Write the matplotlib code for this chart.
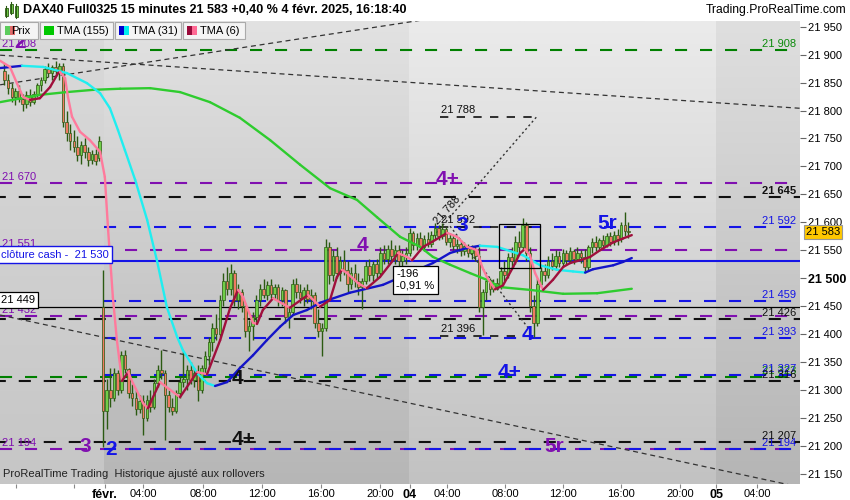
import matplotlib
matplotlib.use("Agg")
import matplotlib.pyplot as plt
import matplotlib.transforms as mtransforms
from matplotlib.patches import Rectangle
from matplotlib.collections import LineCollection
import numpy as np

plt.rcParams['font.family'] = ['Liberation Sans', 'DejaVu Sans']

# ---------------- data ----------------
# bar index: 0 = 3 Feb 01:15, negatives = 31 Jan, 83.. = 4 Feb (15-minute bars)
first_index = -27
opens = [21870,21855,21840,21825,21835,21820,21812,21828,21815,21830,21845,21855,21875,21868,21878,21870,21880,21780,21760,21745,21735,21720,21738,21725,21712,21722,21715,
         21449,21262,21300,21285,21330,21300,21362,21338,21295,21285,21265,21280,21250,21282,21270,21312,21335,21330,21290,21270,21262,21295,21315,21320,21335,21318,21330,21300,21340,21360,21385,21410,21400,21460,21495,21480,21510,21460,21475,21450,21405,21415,21430,21460,21480,21470,21488,21472,21485,21460,21478,21430,21440,21490,21475,21465,21478,21462,21470,21420,21405,21410,21555,21505,21540,21510,21530,21515,21490,21510,21495,21485,21495,21522,21505,21525,21510,21545,21535,21552,21540,21550,21530,
         21540,21545,21580,21560,21572,21555,21570,21562,21578,21590,21575,21588,21565,21572,21558,21562,21548,21558,21545,21552,21540,21448,21475,21495,21480,21492,21485,21512,21505,21538,21530,21565,21555,21595,21545,21450,21420,21490,21512,21505,21530,21522,21540,21528,21545,21532,21548,21535,21545,21538,21520,21555,21565,21555,21568,21560,21575,21565,21578,21570,21595,21585]
highs = [21885,21865,21850,21840,21845,21830,21835,21838,21835,21850,21860,21880,21885,21882,21888,21885,21885,21800,21775,21765,21755,21745,21750,21735,21730,21732,21755,
         21515,21320,21340,21340,21335,21370,21372,21340,21310,21300,21290,21290,21290,21300,21320,21345,21372,21335,21300,21285,21300,21325,21370,21345,21350,21340,21345,21345,21370,21395,21420,21435,21470,21510,21520,21525,21515,21490,21480,21455,21425,21440,21470,21490,21498,21495,21498,21490,21490,21485,21480,21450,21498,21500,21490,21485,21490,21480,21475,21445,21420,21570,21565,21550,21555,21540,21550,21530,21520,21525,21510,21500,21530,21535,21530,21535,21555,21560,21560,21568,21560,21560,21550,
         21555,21590,21585,21580,21582,21578,21582,21585,21598,21595,21598,21592,21580,21578,21570,21568,21565,21562,21560,21558,21555,21480,21500,21500,21498,21500,21520,21530,21545,21555,21575,21585,21608,21600,21555,21470,21500,21520,21525,21540,21545,21550,21548,21552,21550,21555,21552,21555,21550,21552,21560,21572,21575,21572,21578,21580,21582,21585,21588,21600,21618,21600]
lows = [21845,21830,21815,21810,21815,21800,21805,21808,21812,21825,21835,21850,21860,21855,21862,21855,21770,21745,21730,21725,21710,21705,21715,21700,21705,21702,21710,
        21198,21230,21270,21280,21290,21295,21330,21285,21272,21255,21258,21220,21245,21260,21265,21305,21320,21210,21260,21255,21258,21285,21305,21300,21310,21305,21280,21295,21330,21345,21370,21390,21395,21450,21470,21470,21450,21445,21440,21395,21370,21390,21420,21450,21465,21460,21465,21460,21450,21450,21420,21410,21435,21465,21455,21450,21455,21445,21410,21395,21360,21405,21490,21495,21500,21495,21505,21475,21480,21485,21470,21445,21490,21495,21495,21500,21505,21525,21525,21530,21525,21520,21515,
        21525,21540,21550,21550,21548,21548,21555,21555,21570,21568,21570,21560,21555,21550,21545,21540,21542,21538,21535,21530,21440,21398,21460,21470,21475,21478,21480,21495,21500,21520,21525,21545,21550,21530,21440,21395,21415,21485,21495,21500,21515,21515,21520,21522,21525,21528,21525,21530,21528,21510,21515,21545,21548,21550,21552,21555,21558,21560,21560,21565,21575,21572]
closes = [21855,21840,21825,21835,21820,21812,21828,21815,21830,21845,21855,21875,21868,21878,21870,21880,21780,21760,21745,21735,21720,21738,21725,21712,21722,21710,21745,
          21262,21300,21285,21330,21300,21362,21338,21295,21285,21265,21280,21250,21282,21270,21312,21335,21330,21290,21270,21262,21295,21315,21320,21335,21318,21330,21300,21340,21360,21385,21410,21400,21460,21495,21480,21510,21460,21475,21450,21405,21415,21430,21460,21480,21470,21488,21472,21485,21460,21478,21430,21440,21490,21475,21465,21478,21462,21470,21420,21405,21410,21555,21505,21540,21510,21530,21515,21490,21510,21495,21485,21495,21522,21505,21525,21510,21545,21535,21552,21540,21550,21530,21540,
          21545,21580,21560,21572,21555,21570,21562,21578,21590,21575,21588,21565,21572,21558,21562,21548,21558,21545,21552,21540,21448,21475,21495,21480,21492,21485,21512,21505,21538,21530,21565,21555,21595,21545,21450,21420,21490,21512,21505,21530,21522,21540,21528,21545,21532,21548,21535,21545,21538,21520,21555,21565,21555,21568,21560,21575,21565,21578,21570,21595,21585,21583]

# moving averages (bar index, price)
tma6_x = [-28.2,-25.5,-23.6,-21.9,-20.0,-17.3,-14.5,-12.3,-11.8,-10.4,-9.6,-8.5,-6.3,-3.6,-0.8,0.5,1.4,2.7,3.8,5.2,6.9,8.2,11.0,12.3,15.6,18.4,21.1,25.8,28.5,32.1,34.8,37.0,38.4,41.1,42.2,43.8,46.6,51.2,56.2,59.5,62.2,64.1,65.5,66.9,69.9,72.3,75.9,79.5,80.8,83.3,84.7,87.7,90.2,94.3,97.0,99.8,102.5,103.9,105.2,107.4,109.6,112.4,114.3,115.6,117.0,118.4,120.6,123.3,126.1,128.0,130.7,133.5,136.2,139.8,142.5,144.9]
tma6_y = [21889,21878,21849,21824,21819,21822,21842,21867,21869,21858,21824,21789,21762,21747,21726,21681,21586,21466,21389,21316,21332,21312,21276,21267,21314,21300,21287,21332,21328,21389,21446,21479,21466,21420,21418,21443,21464,21447,21470,21449,21461,21502,21515,21509,21491,21482,21502,21532,21545,21538,21532,21556,21565,21581,21574,21556,21550,21520,21502,21480,21487,21520,21545,21552,21541,21509,21479,21497,21520,21527,21532,21538,21550,21564,21571,21577]
tma31_x = [-28.2,-22.2,-16.4,-9.9,-4.4,-0.8,1.9,4.1,6.0,8.8,12.1,14.8,17.5,20.3,21.9,25.8,28.5,30.7,34.0,37.5,41.1,44.9,48.5,52.1,55.9,59.5,67.7,76.7,84.1,90.4,95.1,99.8,103.3,108.0,115.1,119.8,124.4,128.8,132.1,134.3,139.8,142.5,144.9]
tma31_y = [21876,21880,21878,21867,21849,21831,21804,21765,21729,21676,21604,21531,21448,21395,21371,21330,21312,21307,21314,21339,21362,21389,21413,21434,21443,21456,21474,21488,21509,21527,21545,21554,21558,21556,21541,21523,21515,21512,21510,21516,21523,21529,21536]
tma155_x = [-28.2,-17.3,-9.9,-2.7,4.7,12.9,21.1,29.3,37.5,45.8,54.0,62.2,69.6,75.1,81.4,86.9,90.4,95.1,100.6,105.2,108.8,117.0,126.1,135.4,144.9]
tma155_y = [21815,21828,21833,21837,21839,21840,21833,21815,21787,21747,21703,21661,21640,21609,21574,21556,21538,21524,21509,21497,21484,21479,21472,21473,21481]

# horizontal levels
blue_levels = [21592, 21459, 21393, 21327, 21194]
purple_levels = [21670, 21551, 21432, 21194]
black_levels = [21645, 21426, 21316, 21207]
green_levels = [21908, 21323]
purple_left_labels = [21908, 21670, 21551, 21432, 21194]
cash_close = 21530
day_open = 21449
last_price = 21583
proj_levels = [21788, 21592, 21396]

y_ticks = list(range(21150, 21951, 50))
x_tick_pos = [-23.8, -7.9, 0.55, 10.96, 27.4, 43.6, 59.7, 75.9, 84.1, 94.3, 110.2, 126.1, 142.0, 158.1, 168.0, 179.2]
x_tick_lab = ['', '', 'févr.', '04:00', '08:00', '12:00', '16:00', '20:00', '04', '04:00', '08:00', '12:00', '16:00', '20:00', '05', '04:00']

# ---------------- figure ----------------
XMIN, XMAX = -28.23, 191.0
YMIN, YMAX = 21131.6, 21960.2
PURPLE = '#8010b0'
BLUE = '#1414e6'
GREEN = '#0a8a0a'
BLACK = '#111111'

def fmt(v):
    return f"{v:,}".replace(",", " ")

fig = plt.figure(figsize=(8.5, 5), dpi=100)
fig.patch.set_facecolor('white')
ax = fig.add_axes([0, 16/500, 800/850, 463/500])

def grad(x0, x1, top, bot):
    t = np.linspace(0, 1, 256)[:, None]
    col = (top + (bot - top) * t) / 255.0
    img = np.dstack([col, col, col])
    ax.imshow(img, extent=[x0, x1, YMIN, YMAX], aspect='auto', origin='upper',
              zorder=0, interpolation='bilinear')

grad(XMIN, 0.27, 0xda, 0xc6)
grad(0.27, 83.9, 0xe2, 0xb6)
grad(83.9, 168.0, 0xeb, 0xc2)
grad(168.0, XMAX, 0xdf, 0xb5)

dash = (0, (5.8, 6.2))
LW = 1.5
for p in purple_levels:
    ax.plot([XMIN, XMAX], [p, p], color=PURPLE, lw=LW, ls=dash, zorder=1)
for p in black_levels:
    ax.plot([XMIN, XMAX], [p, p], color=BLACK, lw=LW, ls=(3, (5.8, 6.2)), zorder=1.1)
for p in green_levels:
    ax.plot([XMIN, XMAX], [p, p], color='#008000', lw=LW, ls=dash, zorder=1.2)
for p in blue_levels:
    ax.plot([0.3, XMAX], [p, p], color=BLUE, lw=LW, ls=dash, zorder=1.3)

ax.plot([XMIN, XMAX], [cash_close]*2, color=BLUE, lw=1.5, zorder=1.5)
ax.plot([XMIN, XMAX], [day_open]*2, color='black', lw=0.9, zorder=1.5)

# projection short dashed lines
for p in proj_levels:
    ax.plot([92.4, 118.9], [p, p], color=BLACK, lw=1.2, ls=(0, (5, 5)), zorder=1.6)

# trend lines
tl = dict(color='#333333', lw=0.9, ls=(0, (4, 3)), zorder=1.7)
ax.plot([-28.2, 191.0], [21899, 21804], **tl)
ax.plot([-28.2, 92.5], [21846, 21967], **tl)
ax.plot([-28.2, 191.0], [21434, 21126], **tl)
dl = dict(color='#333333', lw=1.0, ls=(0, (1.5, 2.0)), zorder=1.7)
ax.plot([89.6, 119.0], [21568, 21790], **dl)
ax.plot([95.1, 116.5], [21593, 21411], **dl)

# candles
o = np.array(opens, float); h = np.array(highs, float)
l = np.array(lows, float); c = np.array(closes, float)
idx = np.arange(first_index, first_index + len(c))
up = c >= o
wick = '#2b5a12'
ax.vlines(idx, l, h, color=wick, lw=1.0, zorder=3)
ax.bar(idx, np.maximum(np.abs(c - o), 1.5), bottom=np.minimum(o, c), width=0.7,
       color=np.where(up, '#70cf48', '#f07a62'), edgecolor=wick, linewidth=0.5, zorder=3.1)

def ma_line(xs, ys, up_c, dn_c, lw=1.7):
    pts = np.column_stack([xs, ys])
    segs = np.stack([pts[:-1], pts[1:]], axis=1)
    cols = [up_c if ys[k + 1] > ys[k] else dn_c for k in range(len(ys) - 1)]
    ax.add_collection(LineCollection(segs, colors=cols, linewidths=lw, zorder=4, capstyle='round'))

ma_line(tma155_x, tma155_y, '#2ecc2e', '#2ecc2e')
ma_line(tma31_x, tma31_y, '#1414c8', '#20eef0')
ma_line(tma6_x, tma6_y, '#a0103c', '#ff7a9c')

# rectangle and measure box
ax.add_patch(Rectangle((108.5, 21518), 11.3, 79, fill=False, ec='black', lw=0.9, zorder=5))
ax.text(80.3, 21516, "-196\n-0,91 %", ha='left', va='top', fontsize=8, color='black', zorder=6,
        linespacing=1.15, bbox=dict(boxstyle='square,pad=0.3', fc='white', ec='black', lw=0.9))

# level labels
RX = 189.9
for p in blue_levels:
    ax.text(RX, p + 2, fmt(p), ha='right', va='bottom', fontsize=8, color=BLUE, zorder=6)
for p in black_levels:
    ax.text(RX, p + 2, fmt(p), ha='right', va='bottom', fontsize=8, color=BLACK, zorder=6,
            fontweight='bold' if p == 21645 else 'normal')
for p in green_levels:
    ax.text(RX, p + 2, fmt(p), ha='right', va='bottom', fontsize=8, color=GREEN, zorder=5.9)
for p in purple_left_labels:
    ax.text(-27.6, p + 2, fmt(p), ha='left', va='bottom', fontsize=8, color=PURPLE, zorder=5.8)
ax.text(92.6, 21788 + 4, fmt(21788), ha='left', va='bottom', fontsize=8, color=BLACK, zorder=6)
ax.text(92.6, 21592 + 4, fmt(21592), ha='left', va='bottom', fontsize=8, color=BLACK, zorder=6)
ax.text(92.6, 21396 + 4, fmt(21396), ha='left', va='bottom', fontsize=8, color=BLACK, zorder=6)
ax.text(94.3, 21622, fmt(21788), ha='center', va='center', fontsize=8, color=BLACK,
        rotation=48, rotation_mode='anchor', zorder=6)

ax.text(-28.0, day_open + 3, fmt(day_open), ha='left', va='bottom', fontsize=8, color='black', zorder=6,
        bbox=dict(boxstyle='square,pad=0.3', fc='white', ec='black', lw=0.9))
ax.text(-28.0, cash_close + 3, "clôture cash -  " + fmt(cash_close), ha='left', va='bottom', fontsize=8,
        color=BLUE, zorder=6, bbox=dict(boxstyle='square,pad=0.3', fc='white', ec=BLUE, lw=1.0))

# wave labels
big = dict(fontsize=15, fontweight='bold', ha='center', va='center', zorder=6)
ax.text(-22.7, 21921, "2", color=PURPLE, **big)
ax.text(-4.9, 21198, "3", color=PURPLE, **big)
ax.text(2.2, 21194, "2", color=BLUE, **big)
ax.text(36.7, 21320, "4", color=BLACK, **big)
ax.text(38.4, 21211, "4+", color=BLACK, **big)
ax.text(71.0, 21559, "4", color=PURPLE, **big)
ax.text(94.3, 21676, "4+", color=PURPLE, **big)
ax.text(98.4, 21595, "3", color=BLUE, **big)
ax.text(116.2, 21400, "4", color=BLUE, **big)
ax.text(111.3, 21332, "4+", color=BLUE, **big)
ax.text(138.1, 21597, "5r", color=BLUE, **big)
ax.text(123.6, 21198, "5r", color=PURPLE, **big)

ax.text(0.004, 0.022, "ProRealTime Trading  Historique ajusté aux rollovers", transform=ax.transAxes,
        fontsize=8, color='#222222', ha='left', va='center', zorder=6)

# axes
ax.set_xlim(XMIN, XMAX)
ax.set_ylim(YMIN, YMAX)
for s in ax.spines.values():
    s.set_visible(False)
ax.yaxis.tick_right()
ax.set_yticks(y_ticks)
ax.set_yticklabels([fmt(v) for v in y_ticks])
ax.tick_params(axis='y', length=4, width=0.8, color='#666666', pad=2, labelsize=8)
for t, v in zip(ax.get_yticklabels(), y_ticks):
    if v == 21500:
        t.set_fontweight('bold')
        t.set_fontsize(9)
ax.set_xticks(x_tick_pos)
ax.set_xticklabels(x_tick_lab)
ax.tick_params(axis='x', length=3, width=0.8, color='#888888', pad=0.3, labelsize=8)
for t, lab in zip(ax.get_xticklabels(), x_tick_lab):
    if lab in ('févr.', '04', '05') and t.get_text() == lab:
        t.set_fontweight('bold')
        t.set_fontsize(9)

trans = mtransforms.blended_transform_factory(ax.transAxes, ax.transData)
ax.text(1.0 + 6/800, last_price, fmt(last_price), transform=trans, ha='left', va='center', fontsize=8,
        color='black', zorder=10, clip_on=False,
        bbox=dict(boxstyle='square,pad=0.2', fc='#ffc800', ec='#999999', lw=0.8))

# overlay: header and legend (pixel coordinates)
ov = fig.add_axes([0, 0, 1, 1], zorder=5)
ov.set_xlim(0, 850); ov.set_ylim(500, 0); ov.axis('off'); ov.patch.set_alpha(0)
for x0, y0, y1, col in [(5, 8, 16, '#2b5a12'), (10, 4, 13, '#2b5a12'), (15, 6, 17, '#2b5a12')]:
    ov.plot([x0 + 1.5, x0 + 1.5], [y0 - 2, y1 + 1], color=col, lw=0.8)
    ov.add_patch(Rectangle((x0, y0), 3, y1 - y0, fc='#70cf48', ec=col, lw=0.6))
ov.text(23, 10, "DAX40 Full0325 15 minutes 21 583 +0,40 % 4 févr. 2025, 16:18:40", fontsize=9,
        fontweight='bold', ha='left', va='center', color='black')
ov.text(846, 10, "Trading.ProRealTime.com", fontsize=8.7, ha='right', va='center', color='black')

legend_boxes = [(0, 38), (40, 73), (115, 66), (183, 62)]
for x0, w in legend_boxes:
    ov.add_patch(Rectangle((x0, 22), w, 17, fc='#f4f4f4', ec='#aaaaaa', lw=0.8))
def sw(x, c1, c2):
    ov.add_patch(Rectangle((x, 26), 5, 9, fc=c1, ec='none'))
    ov.add_patch(Rectangle((x + 5, 26), 5, 9, fc=c2, ec='none'))
ov.text(11, 31, "Prix", fontsize=8, ha='left', va='center')
sw(5, '#5ccc5c', '#e06a6a')
sw(44, '#00c800', '#00c800')
ov.text(57, 31, "TMA (155)", fontsize=8, ha='left', va='center')
sw(119, '#0000d0', '#00eeee')
ov.text(132, 31, "TMA (31)", fontsize=8, ha='left', va='center')
sw(187, '#9a0a3a', '#ff6a94')
ov.text(200, 31, "TMA (6)", fontsize=8, ha='left', va='center')

fig.savefig("out.png", dpi=100)
